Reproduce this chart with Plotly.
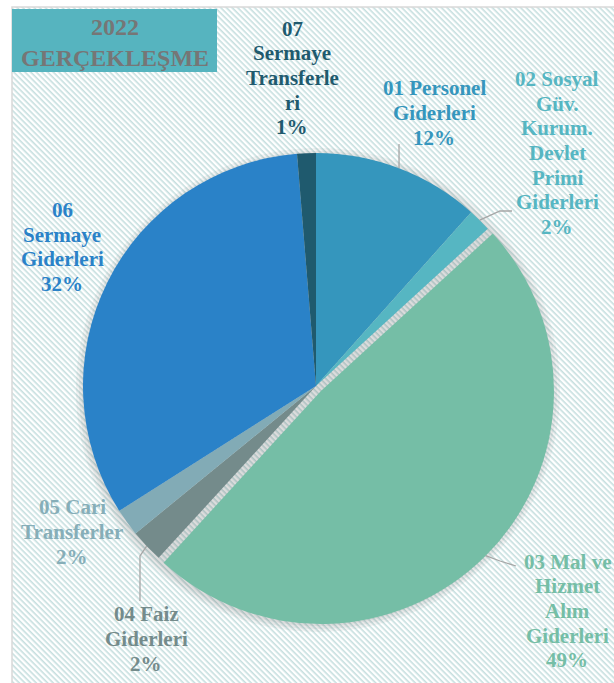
"""
2022 Gerçekleşme - expenditure breakdown pie chart.
"""
import base64
import math
import plotly.graph_objects as go

W, H = 614, 683

# Data
codes = ["01", "02", "03", "04", "05", "06", "07"]
label_texts = [
    "01 Personel<br>Giderleri",
    "02 Sosyal<br>Güv.<br>Kurum.<br>Devlet<br>Primi<br>Giderleri",
    "03 Mal ve<br>Hizmet<br>Alım<br>Giderleri",
    "04 Faiz<br>Giderleri",
    "05 Cari<br>Transferler",
    "06<br>Sermaye<br>Giderleri",
    "07<br>Sermaye<br>Transferle<br>ri",
]
shares = [11.6, 1.6, 48.6, 2.3, 1.9, 32.7, 1.3]
pct_labels = ["12%", "2%", "49%", "2%", "2%", "32%", "1%"]

COLORS = ["#3596bd", "#56b6c2", "#75bea6", "#748b8b", "#82abb6", "#2a82c8", "#1f5a6e"]
LABEL_COLORS = ["#3596bd", "#56b6c2", "#75bea6", "#748b8b", "#86aeb8", "#2a82c8", "#1f5a6e"]

# layout helpers (pixels -> paper)
def px(x):
    return x / W


def py(y):
    return 1 - y / H


CX, CY, R = 316, 386, 233
PULL = 0.03
pulls = [PULL if c == "03" else 0 for c in codes]
LINE_GAP = 24.6

# label centres in pixels
label_pos = {
    "01": (434, 113),
    "02": (557, 153),
    "03": (567, 611),
    "04": (146, 639),
    "05": (72, 532),
    "06": (62, 247),
    "07": (292, 78),
}
# leader line bends/ends in pixels
leaders = {
    "01": [(399, 144)],
    "02": [(500, 211), (512, 211)],
    "03": [(500, 561), (516, 566)],
    "04": [(140, 556), (140, 601)],
}

# hatched background as an svg pattern
bg_w, bg_h = W - 12, H - 7
svg = f"""<svg xmlns='http://www.w3.org/2000/svg' width='{bg_w}' height='{bg_h}'>
<defs><pattern id='p' width='4' height='4' patternUnits='userSpaceOnUse' patternTransform='rotate(45)'>
<rect width='4' height='4' fill='white'/>
<rect width='4' height='1.6' fill='#c6dfdf'/>
</pattern></defs>
<rect width='{bg_w}' height='{bg_h}' fill='url(#p)'/>
</svg>"""
bg_src = "data:image/svg+xml;base64," + base64.b64encode(svg.encode()).decode()

fig = go.Figure()

half = R * (1 + PULL)
fig.add_trace(go.Pie(
    labels=codes,
    values=shares,
    sort=False,
    direction="clockwise",
    rotation=0,
    pull=pulls,
    marker=dict(colors=COLORS, line=dict(width=0)),
    textinfo="none",
    hoverinfo="label+percent",
    showlegend=False,
    domain=dict(x=[px(CX - half), px(CX + half)], y=[py(CY + half), py(CY - half)]),
))

shapes = []
annotations = []

# soft shadow under the pie
for grow in (9, 6, 3):
    shapes.append(dict(type="circle", xref="paper", yref="paper", layer="below",
                       x0=px(CX + 2 - R - grow), x1=px(CX + 2 + R + grow),
                       y0=py(CY + 4 + R + grow), y1=py(CY + 4 - R - grow),
                       fillcolor="rgba(90,90,90,0.07)", line=dict(width=0)))

# leader lines, starting at the slice edge
total = sum(shares)
cum = 0
for code, v, p in zip(codes, shares, pulls):
    mid = (cum + v / 2) / total * 2 * math.pi
    cum += v
    if code not in leaders:
        continue
    off = p * R
    sx = CX + (R + off) * math.sin(mid)
    sy = CY - (R + off) * math.cos(mid)
    pts = [(sx, sy)] + leaders[code]
    path = "M " + " L ".join(f"{px(x)},{py(y)}" for x, y in pts)
    shapes.append(dict(type="path", xref="paper", yref="paper", path=path,
                       line=dict(color="#a6a6a6", width=1.3)))

# chart area border
shapes.append(dict(type="rect", xref="paper", yref="paper", layer="below",
                   x0=px(12), x1=px(W + 5), y0=py(H + 5), y1=py(7),
                   line=dict(color="#d9d9d9", width=1.5)))
# title box
shapes.append(dict(type="rect", xref="paper", yref="paper",
                   x0=px(12), x1=px(217), y0=py(72), y1=py(9),
                   fillcolor="#56b4bf", line=dict(width=0)))

annotations.append(dict(
    text="<b>2022<br>GERÇEKLEŞME</b>", xref="paper", yref="paper",
    x=px(115), y=py(42), showarrow=False, xanchor="center", yanchor="middle",
    font=dict(family="Liberation Serif", size=24, color="#767676"),
))

# data labels, one annotation per line to keep the tight line spacing
for code, txt, pct, col in zip(codes, label_texts, pct_labels, LABEL_COLORS):
    x, y = label_pos[code]
    lines = txt.split("<br>") + [pct]
    top = y - LINE_GAP * (len(lines) - 1) / 2
    for i, line in enumerate(lines):
        annotations.append(dict(
            text=f"<b>{line}</b>", xref="paper", yref="paper",
            x=px(x), y=py(top + i * LINE_GAP), showarrow=False,
            xanchor="center", yanchor="middle",
            font=dict(family="Liberation Serif", size=21, color=col),
        ))

fig.update_layout(
    width=W,
    height=H,
    margin=dict(l=0, r=0, t=0, b=0),
    paper_bgcolor="white",
    plot_bgcolor="white",
    shapes=shapes,
    annotations=annotations,
    images=[dict(source=bg_src, xref="paper", yref="paper", x=px(12), y=py(7),
                 sizex=bg_w / W, sizey=bg_h / H, xanchor="left", yanchor="top",
                 sizing="stretch", layer="below")],
)

fig.write_html("out.html", config={"displayModeBar": False},
               post_script="document.body.style.margin = '0';")
